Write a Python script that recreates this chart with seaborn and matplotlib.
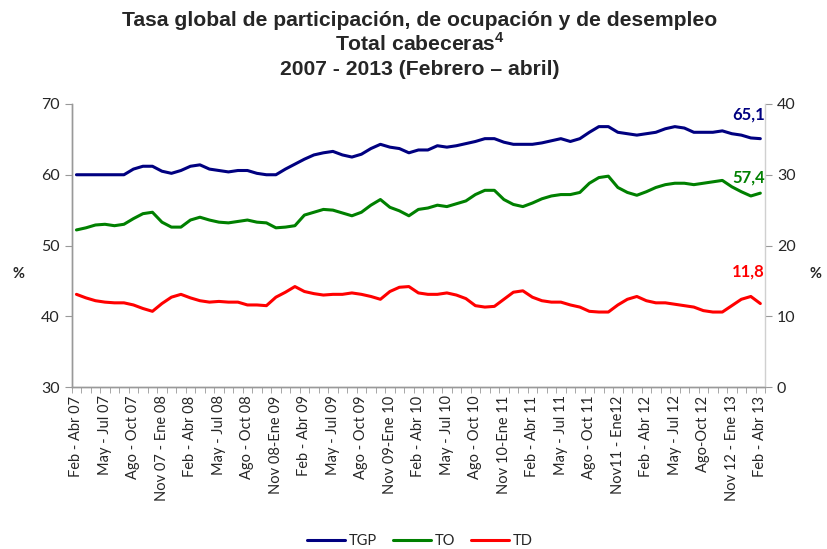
import numpy as np
import pandas as pd
import matplotlib
matplotlib.use("Agg")
import matplotlib.pyplot as plt
import seaborn as sns
from matplotlib.ticker import MultipleLocator

# tick labels (every third rolling quarter)
tick_labels = ['Feb - Abr 07', 'May - Jul 07', 'Ago - Oct 07', 'Nov 07 - Ene 08',
               'Feb - Abr 08', 'May - Jul 08', 'Ago - Oct 08', 'Nov 08-Ene 09',
               'Feb - Abr 09', 'May - Jul 09', 'Ago - Oct 09', 'Nov 09-Ene 10',
               'Feb - Abr 10', 'May - Jul 10', 'Ago - Oct 10', 'Nov 10-Ene 11',
               'Feb - Abr 11', 'May - Jul 11', 'Ago - Oct 11', 'Nov11 - Ene12',
               'Feb - Abr 12', 'May - Jul 12', 'Ago-Oct 12', 'Nov 12 - Ene 13',
               'Feb - Abr 13']

# tasa global de participacion
tgp = [60.0, 60.0, 60.0, 60.0, 60.0, 60.0, 60.8, 61.2, 61.2, 60.5,
       60.2, 60.6, 61.2, 61.4, 60.8, 60.6, 60.4, 60.6, 60.6, 60.2,
       60.0, 60.0, 60.8, 61.5, 62.2, 62.8, 63.1, 63.3, 62.8, 62.5,
       62.9, 63.7, 64.3, 63.9, 63.7, 63.1, 63.5, 63.5, 64.1, 63.9,
       64.1, 64.4, 64.7, 65.1, 65.1, 64.6, 64.3, 64.3, 64.3, 64.5,
       64.8, 65.1, 64.7, 65.1, 66.0, 66.8, 66.8, 66.0, 65.8, 65.6,
       65.8, 66.0, 66.5, 66.8, 66.6, 66.0, 66.0, 66.0, 66.2, 65.8,
       65.6, 65.2, 65.1]

# tasa de ocupacion
to = [52.2, 52.5, 52.9, 53.0, 52.8, 53.0, 53.8, 54.5, 54.7, 53.3,
      52.6, 52.6, 53.6, 54.0, 53.6, 53.3, 53.2, 53.4, 53.6, 53.3,
      53.2, 52.5, 52.6, 52.8, 54.3, 54.7, 55.1, 55.0, 54.6, 54.2,
      54.7, 55.7, 56.5, 55.4, 54.9, 54.2, 55.1, 55.3, 55.7, 55.5,
      55.9, 56.3, 57.2, 57.8, 57.8, 56.5, 55.8, 55.5, 56.0, 56.6,
      57.0, 57.2, 57.2, 57.5, 58.8, 59.6, 59.8, 58.2, 57.5, 57.1,
      57.6, 58.2, 58.6, 58.8, 58.8, 58.6, 58.8, 59.0, 59.2, 58.3,
      57.6, 57.0, 57.4]

# tasa de desempleo (eje derecho)
td = [13.1, 12.6, 12.2, 12.0, 11.9, 11.9, 11.6, 11.1, 10.7, 11.8,
      12.7, 13.1, 12.6, 12.2, 12.0, 12.1, 12.0, 12.0, 11.6, 11.6,
      11.5, 12.7, 13.4, 14.2, 13.5, 13.2, 13.0, 13.1, 13.1, 13.3,
      13.1, 12.8, 12.4, 13.5, 14.1, 14.2, 13.3, 13.1, 13.1, 13.3,
      13.0, 12.5, 11.5, 11.3, 11.4, 12.4, 13.4, 13.6, 12.7, 12.2,
      12.0, 12.0, 11.6, 11.3, 10.7, 10.6, 10.6, 11.6, 12.4, 12.8,
      12.2, 11.9, 11.9, 11.7, 11.5, 11.3, 10.8, 10.6, 10.6, 11.5,
      12.4, 12.8, 11.8]

df = pd.DataFrame({'periodo': np.arange(len(tgp)), 'TGP': tgp, 'TO': to, 'TD': td})

sns.set_style("white")
plt.rcParams['font.family'] = ['Lato', 'DejaVu Sans']
plt.rcParams['mathtext.fontset'] = 'custom'
plt.rcParams['mathtext.rm'] = 'Liberation Sans'
plt.rcParams['mathtext.bf'] = 'Liberation Sans:bold'

fig = plt.figure(figsize=(8.28, 5.49), dpi=100)
ax = fig.add_axes([0.0866, 0.295, 0.8374, 0.5156])
ax2 = ax.twinx()

lw = 2.2
sns.lineplot(data=df, x='periodo', y='TGP', ax=ax, color='#000080', lw=lw, label='TGP', legend=False)
sns.lineplot(data=df, x='periodo', y='TO', ax=ax, color='#008000', lw=lw, label='TO', legend=False)
sns.lineplot(data=df, x='periodo', y='TD', ax=ax2, color='#FF0000', lw=lw, label='TD', legend=False)

ax.set_xlim(-0.5, len(tgp) - 0.5)
ax.set_ylim(30, 70)
ax2.set_ylim(0, 40)
ax.set_yticks([30, 40, 50, 60, 70])
ax2.set_yticks([0, 10, 20, 30, 40])

ax.set_xticks(np.arange(0, len(tgp), 3))
ax.set_xticklabels(tick_labels, rotation=90, fontsize=10.5, va='top', ha='center')
ax.xaxis.set_minor_locator(MultipleLocator(1, offset=0.5))
ax.tick_params(axis='x', which='major', length=0, pad=6)
ax.tick_params(axis='x', which='minor', length=4, color='#999999', direction='out', bottom=True)
ax.tick_params(axis='y', length=5, color='#999999', direction='out', labelsize=11.5, left=True)
ax2.tick_params(axis='y', length=5, color='#999999', direction='out', labelsize=11.5, right=True)

for a in (ax, ax2):
    a.set_xlabel('')
    a.set_ylabel('')
    a.spines['top'].set_visible(False)
    for s in ('left', 'right', 'bottom'):
        a.spines[s].set_color('#999999')
        a.spines[s].set_linewidth(1.0)
ax.spines['right'].set_visible(False)
ax2.spines['right'].set_color('#d0d0d0')

fig.text(0.022, 0.50, '%', fontsize=10.5, fontweight='bold', ha='center', va='center')
fig.text(0.985, 0.50, '%', fontsize=10.5, fontweight='bold', ha='center', va='center')

# end values
last = len(tgp) - 1
ax.annotate('65,1', (last, tgp[-1]), xytext=(-12, 24), textcoords='offset pixels',
            ha='center', va='center', color='#000080', fontsize=12, fontweight='bold')
ax.annotate('57,4', (last, to[-1]), xytext=(-12, 16), textcoords='offset pixels',
            ha='center', va='center', color='#008000', fontsize=12, fontweight='bold')
ax2.annotate('11,8', (last, td[-1]), xytext=(-12, 32), textcoords='offset pixels',
             ha='center', va='center', color='#FF0000', fontsize=12, fontweight='bold')

title_font = ['Liberation Sans', 'DejaVu Sans']
fig.text(0.507, 0.962, 'Tasa global de participación, de ocupación y de desempleo',
         ha='center', va='center', fontsize=15.2, fontweight='bold', family=title_font)
fig.text(0.507, 0.920, r'Total cabeceras$^{\mathbf{4}}$',
         ha='center', va='center', fontsize=15.2, fontweight='bold', family=title_font)
fig.text(0.507, 0.873, '2007 - 2013 (Febrero – abril)',
         ha='center', va='center', fontsize=15.2, fontweight='bold', family=title_font)

h1, l1 = ax.get_legend_handles_labels()
h2, l2 = ax2.get_legend_handles_labels()
fig.legend(h1 + h2, l1 + l2, loc='center', bbox_to_anchor=(0.507, 0.015), ncol=3,
           frameon=False, fontsize=10.5, handlelength=2.6, columnspacing=1.1, handletextpad=0.25)

fig.savefig('out.png', dpi=100)
